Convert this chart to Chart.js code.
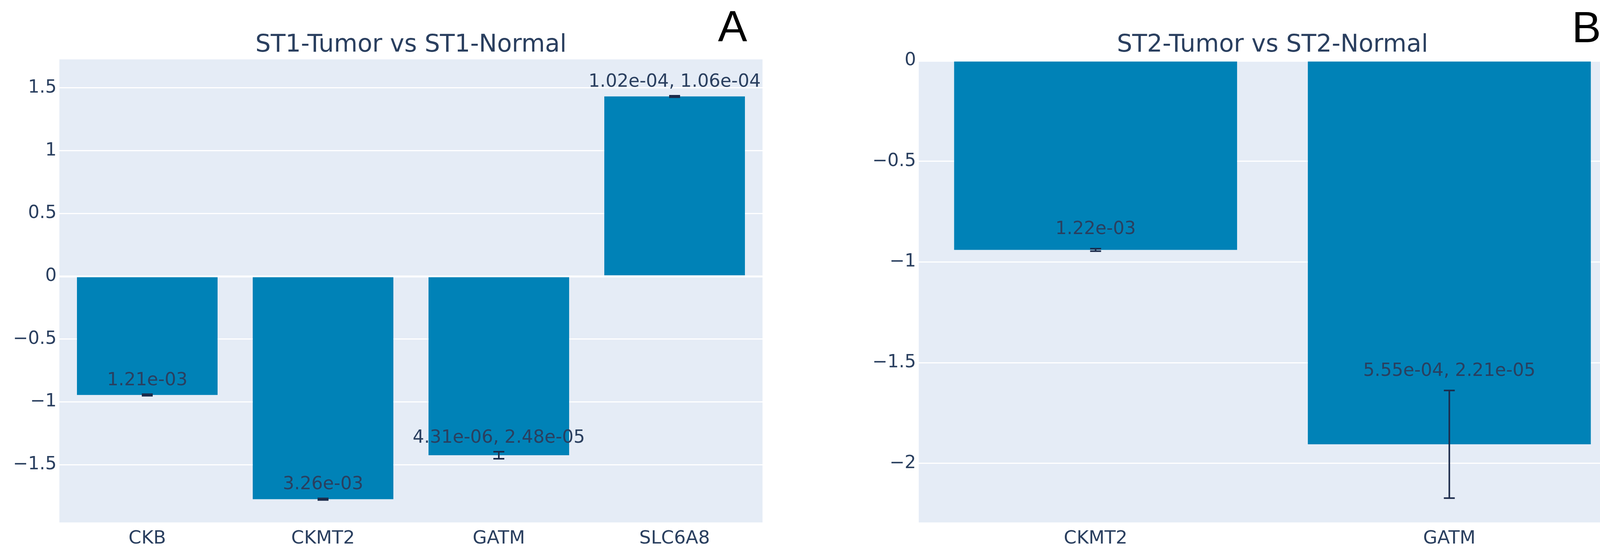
<!DOCTYPE html>
<html>
<head>
<meta charset="utf-8">
<script src="https://cdn.jsdelivr.net/npm/chart.js@4"></script>
<style>
  html, body { margin: 0; padding: 0; background: #ffffff; }
  body { width: 4193px; height: 1428px; position: relative; overflow: hidden; }
  canvas { position: absolute; top: 0; }
  #cA { left: 0px; }
  #cB { left: 2080px; }
</style>
</head>
<body>
<canvas id="cA" width="2080" height="1428"></canvas>
<canvas id="cB" width="2113" height="1428"></canvas>
<script>
// ---------- Data ----------
const titleA = 'ST1-Tumor vs ST1-Normal';
const categoriesA = ['CKB', 'CKMT2', 'GATM', 'SLC6A8'];
const valuesA = [-0.945, -1.775, -1.425, 1.432];
const errorsA = [0.006, 0.006, 0.028, 0.006];
const pLabelsA = ['1.21e-03', '3.26e-03', '4.31e-06, 2.48e-05', '1.02e-04, 1.06e-04'];
const yRangeA = [-1.96, 1.727];

const titleB = 'ST2-Tumor vs ST2-Normal';
const categoriesB = ['CKMT2', 'GATM'];
const valuesB = [-0.94, -1.905];
const errorsB = [0.006, 0.267];
const pLabelsB = ['1.22e-03', '5.55e-04, 2.21e-05'];
const yRangeB = [-2.293, 0];

const yTickStep = 0.5;

// ---------- Styles ----------
const FONT = 'DejaVu Sans';
const TEXT_COLOR = '#2a3f5f';
const BAR_COLOR = '#0082b7';
const PLOT_BG = '#e5ecf6';
const ERR_COLOR = '#1c2b4b';

function fmtTick(v) {
  const s = String(Math.round(v * 100) / 100);
  return s.replace('-', '\u2212');
}

const plotBgPlugin = {
  id: 'plotBg',
  beforeDraw(chart) {
    const { ctx, chartArea: a } = chart;
    ctx.save();
    ctx.fillStyle = PLOT_BG;
    ctx.fillRect(a.left, a.top, a.right - a.left, a.bottom - a.top);
    ctx.restore();
  }
};

const decorPlugin = {
  id: 'decor',
  afterDatasetsDraw(chart, args, opts) {
    const { ctx, chartArea: a } = chart;
    const ys = chart.scales.y;
    const meta = chart.getDatasetMeta(0);
    const vals = opts.values, errs = opts.errors, labs = opts.labels;
    ctx.save();
    // error bars
    ctx.strokeStyle = ERR_COLOR;
    ctx.lineWidth = 4;
    ctx.lineCap = 'butt';
    for (let i = 0; i < vals.length; i++) {
      const x = meta.data[i].x;
      const yt = ys.getPixelForValue(vals[i] + errs[i]);
      const yb = ys.getPixelForValue(vals[i] - errs[i]);
      ctx.beginPath();
      ctx.moveTo(x, yt); ctx.lineTo(x, yb);
      ctx.moveTo(x - 14, yt); ctx.lineTo(x + 14, yt);
      ctx.moveTo(x - 14, yb); ctx.lineTo(x + 14, yb);
      ctx.stroke();
    }
    // p-value labels
    ctx.fillStyle = TEXT_COLOR;
    ctx.font = '46px "' + FONT + '"';
    ctx.textAlign = 'center';
    ctx.textBaseline = 'alphabetic';
    for (let i = 0; i < vals.length; i++) {
      const x = meta.data[i].x;
      const y = ys.getPixelForValue(vals[i] + errs[i] + 0.072);
      ctx.fillText(labs[i], x, y);
    }
    // title
    ctx.font = '62px "' + FONT + '"';
    ctx.fillText(opts.title, (a.left + a.right) / 2, 132);
    // panel letter
    ctx.fillStyle = '#000000';
    ctx.font = '112px "Liberation Sans"';
    ctx.textAlign = 'left';
    ctx.fillText(opts.letter, opts.letterX, opts.letterY);
    ctx.restore();
  }
};

function makeChart(id, cats, vals, errs, labs, yRange, title, letter, letterX, letterY, yWidth, pad) {
  return new Chart(document.getElementById(id), {
    type: 'bar',
    data: {
      labels: cats,
      datasets: [{
        data: vals,
        backgroundColor: BAR_COLOR,
        borderWidth: 0,
        categoryPercentage: 0.8,
        barPercentage: 1.0
      }]
    },
    options: {
      responsive: false,
      devicePixelRatio: 1,
      animation: false,
      layout: { padding: pad },
      plugins: {
        legend: { display: false },
        title: { display: false },
        tooltip: { enabled: false },
        decor: { values: vals, errors: errs, labels: labs, title: title, letter: letter, letterX: letterX, letterY: letterY }
      },
      scales: {
        x: {
          grid: { display: false, drawTicks: false },
          border: { display: false },
          ticks: { color: TEXT_COLOR, font: { family: FONT, size: 47 }, padding: 14, maxRotation: 0 },
          afterFit(s) { s.height = 91; }
        },
        y: {
          min: yRange[0], max: yRange[1],
          grid: {
            color: '#ffffff',
            lineWidth: (c) => (c.tick && c.tick.value === 0 ? 5 : 3),
            drawTicks: false
          },
          border: { display: false },
          ticks: {
            stepSize: yTickStep,
            includeBounds: false,
            color: TEXT_COLOR,
            font: { family: FONT, size: 46 },
            padding: 7,
            callback: (v) => fmtTick(v)
          },
          afterFit(s) { s.width = yWidth; }
        }
      }
    },
    plugins: [plotBgPlugin, decorPlugin]
  });
}

makeChart('cA', categoriesA, valuesA, errorsA, pLabelsA, yRangeA, titleA, 'A', 1838, 105, 152,
  { left: 0, right: 128, top: 152, bottom: 0 });
makeChart('cB', categoriesB, valuesB, errorsB, pLabelsB, yRangeB, titleB, 'B', 1944, 108, 272,
  { left: 0, right: 30, top: 155, bottom: 0 });
</script>
</body>
</html>
